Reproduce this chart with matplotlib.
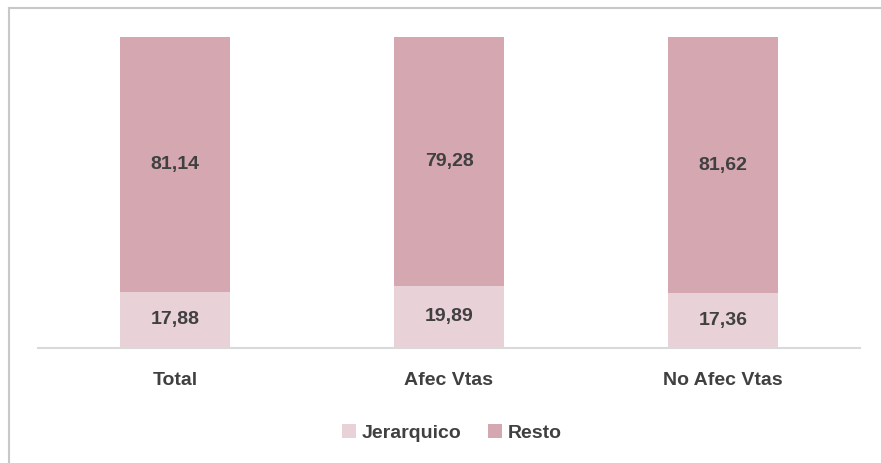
import numpy as np
import matplotlib.pyplot as plt
from matplotlib.lines import Line2D

# data
categories = ["Total", "Afec Vtas", "No Afec Vtas"]
jerarquico = [17.88, 19.89, 17.36]
resto = [81.14, 79.28, 81.62]
series_names = ["Jerarquico", "Resto"]

c_jer = "#e9d1d8"
c_resto = "#d5a7b1"
txt = "#404040"
font = "Liberation Sans"

W, H = 881, 463
fig = plt.figure(figsize=(W / 100, H / 100), dpi=100)
ax = fig.add_axes([38 / W, (H - 348) / H, (860 - 38) / W, (348 - 34) / H])

x = np.arange(len(categories))
b1 = ax.bar(x, jerarquico, width=0.40, color=c_jer, label=series_names[0])
b2 = ax.bar(x, resto, width=0.40, bottom=jerarquico, color=c_resto, label=series_names[1])

for bars, vals, bottoms in [(b1, jerarquico, [0, 0, 0]), (b2, resto, jerarquico)]:
    for xi, v, b in zip(x, vals, bottoms):
        ax.text(xi, b + v / 2, f"{v:.2f}".replace(".", ","), ha="center", va="center",
                fontsize=14, fontweight="bold", color=txt, family=font)

ax.set_xlim(-0.5, 2.5)
ax.set_ylim(0, 100)
ax.set_yticks([])
ax.set_xticks([])
for s in ["top", "right", "left"]:
    ax.spines[s].set_visible(False)
ax.spines["bottom"].set_color("#d9d9d9")
ax.spines["bottom"].set_linewidth(1.5)

for xi, c in zip(x, categories):
    ax.text(xi, -0.102, c, transform=ax.get_xaxis_transform(), ha="center", va="center",
            fontsize=14, fontweight="bold", color=txt, family=font)

leg = fig.legend(handles=[b1, b2], labels=series_names, loc="center",
                 bbox_to_anchor=(452 / W, (H - 433) / H), ncol=2, frameon=False,
                 handlelength=0.7, handleheight=0.7, handletextpad=0.3, columnspacing=1.4,
                 prop={"family": font, "weight": "bold", "size": 14})
for t in leg.get_texts():
    t.set_color(txt)

# outer chart border (top and left visible)
fig.add_artist(Line2D([8.5 / W, 8.5 / W], [0, (H - 7.5) / H], color="#c8c8c8", lw=1.5))
fig.add_artist(Line2D([8.5 / W, 1], [(H - 7.5) / H, (H - 7.5) / H], color="#c8c8c8", lw=1.5))

fig.savefig("out.png", dpi=100)
